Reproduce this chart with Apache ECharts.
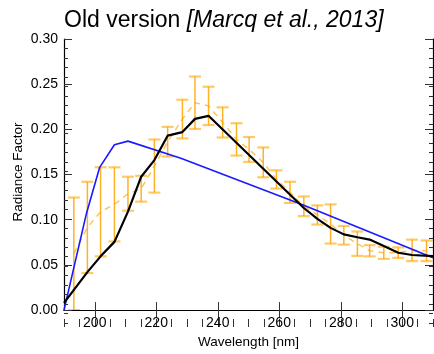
<!DOCTYPE html>
<html>
<head>
<meta charset="utf-8">
<script src="https://cdn.jsdelivr.net/npm/echarts@6/dist/echarts.min.js"></script>
<style>html,body{margin:0;padding:0;background:#fff}#c{width:434px;height:354px}</style>
</head>
<body>
<div id="c"></div>
<script>
// Observations: wavelength, mean and half error-bar
const obsWl   = [193.2,197.6,201.9,206.4,210.8,215.1,219.4,223.7,228.5,232.6,237.0,241.6,246.1,250.2,254.8,259.1,263.5,268.0,272.4,276.7,281.0,285.4,289.4,294.0,298.7,303.2,307.9];
const obsMean = [0.0623,0.0915,0.1088,0.1170,0.1288,0.1343,0.1594,0.1864,0.2114,0.2295,0.2260,0.2077,0.1889,0.1778,0.1635,0.1446,0.1303,0.1149,0.1053,0.0953,0.0828,0.0735,0.0657,0.0634,0.0636,0.0661,0.0656];
const obsErr  = [0.0623,0.0505,0.0493,0.0410,0.0188,0.0143,0.0294,0.0164,0.0214,0.0290,0.0212,0.0167,0.0179,0.0138,0.0165,0.0101,0.0117,0.0109,0.0106,0.0217,0.0103,0.0135,0.0062,0.0067,0.0058,0.0119,0.0114];
// Black model curve
const blackWl = [190,197.6,201.9,206.4,210.8,215.1,219.4,223.7,228.5,232.6,237.0,268.0,272.4,276.7,281.0,285.4,289.4,294.0,298.7,303.2,310];
const blackRF = [0.008,0.042,0.0595,0.0755,0.109,0.1476,0.166,0.193,0.197,0.2116,0.215,0.113,0.101,0.091,0.0838,0.0806,0.078,0.071,0.0635,0.061,0.0597];
// Blue model curve
const blueWl = [190,197.3,201.6,206.4,210.8,228,268,310];
const blueRF = [0.0,0.107,0.158,0.183,0.187,0.168,0.116,0.058];
// Axis ticks
const xMajor = [200,220,240,260,280,300];
const xMinor = [190,195,200,205,210,215,220,225,230,235,240,245,250,255,260,265,270,275,280,285,290,295,300,305,310];

const chart = echarts.init(document.getElementById('c'), null, {renderer:'canvas'});
const F = 'Liberation Sans, Arial, Helvetica, sans-serif';
const gridPos = {left:64, right:1, top:39, bottom:31, containLabel:false};
const lineCol = '#000';
const tickCol = '#333';

function xAx(grid, pos, major, withLabel){
  const a = {
    type:'value', gridIndex:grid, position:pos, min:190, max:310,
    splitLine:{show:false},
    axisLine:{show:grid===0, lineStyle:{color:lineCol, width:1.2}},
    axisTick:{show:true, inside:true, length:major?8:4, lineStyle:{color:tickCol, width:1}},
    axisLabel:{show:false}
  };
  if (major){
    a.axisTick.customValues = xMajor;
    a.axisLabel = {show:withLabel, customValues:xMajor, color:'#000', fontFamily:F, fontSize:14, margin:6};
  } else {
    a.interval = 5;
    a.axisTick.customValues = xMinor;
  }
  if (withLabel){
    a.name = 'Wavelength [nm]'; a.nameLocation='middle'; a.nameGap=20;
    a.nameTextStyle = {color:'#000', fontFamily:F, fontSize:13.5};
  }
  return a;
}
function yAx(grid, pos, major, withLabel){
  return {
    type:'value', gridIndex:grid, position:pos, min:0, max:0.3, interval:major?0.05:0.01,
    splitLine:{show:false},
    axisLine:{show:grid===0, lineStyle:{color:lineCol, width:1.2}},
    axisTick:{show:true, inside:true, length:major?8:4, lineStyle:{color:tickCol, width:1}},
    axisLabel:{show:withLabel, color:'#000', fontFamily:F, fontSize:14, margin:6,
      formatter:v=>v.toFixed(2)}
  };
}

const obsData = obsWl.map((w,i)=>[w, obsMean[i], obsErr[i]]);

chart.setOption({
  animation:false,
  backgroundColor:'#fff',
  title:{
    text:'{a|Old version }{b|[Marcq et al., 2013]}',
    left:59, top:4,
    textStyle:{fontWeight:'normal', rich:{
      a:{fontFamily:F, fontSize:23, color:'#000', fontWeight:'normal'},
      b:{fontFamily:F, fontSize:23, color:'#000', fontStyle:'italic', fontWeight:'normal'}
    }}
  },
  graphic:[{
    type:'text', x:18, y:172, rotation:Math.PI/2,
    style:{text:'Radiance Factor', fontFamily:F, fontSize:13.5, fill:'#000', align:'center', verticalAlign:'middle'}
  }],
  grid:[gridPos, Object.assign({}, gridPos)],
  xAxis:[xAx(0,'bottom',true,true), xAx(0,'top',true,false), xAx(1,'bottom',false,false), xAx(1,'top',false,false)],
  yAxis:[yAx(0,'left',true,true), yAx(0,'right',true,false), yAx(1,'left',false,false), yAx(1,'right',false,false)],
  series:[
    {
      type:'custom', xAxisIndex:0, yAxisIndex:0, clip:true, z:2,
      data:obsData,
      renderItem:function(params, api){
        const x=api.value(0), m=api.value(1), e=api.value(2);
        const t=api.coord([x,m+e]), b=api.coord([x,m-e]);
        const hw=6;
        return {type:'group', children:[
          {type:'line', shape:{x1:t[0],y1:t[1],x2:b[0],y2:b[1]}, style:{stroke:'rgba(255,165,0,0.85)', lineWidth:1.5}},
          {type:'line', shape:{x1:t[0]-hw,y1:t[1],x2:t[0]+hw,y2:t[1]}, style:{stroke:'rgba(255,165,0,0.6)', lineWidth:2.2}},
          {type:'line', shape:{x1:b[0]-hw,y1:b[1],x2:b[0]+hw,y2:b[1]}, style:{stroke:'rgba(255,165,0,0.6)', lineWidth:2.2}}
        ]};
      }
    },
    {
      type:'line', xAxisIndex:0, yAxisIndex:0, z:3, symbol:'none',
      data:obsWl.map((w,i)=>[w, obsMean[i]]),
      lineStyle:{color:'rgba(255,165,0,0.65)', width:1.5, type:[6,5]}
    },
    {
      type:'line', xAxisIndex:0, yAxisIndex:0, z:4, symbol:'none',
      data:blueWl.map((w,i)=>[w, blueRF[i]]),
      lineStyle:{color:'#1a1aff', width:1.6}
    },
    {
      type:'line', xAxisIndex:0, yAxisIndex:0, z:5, symbol:'none',
      data:blackWl.map((w,i)=>[w, blackRF[i]]),
      lineStyle:{color:'#000', width:2.2}
    }
  ]
});
</script>
</body>
</html>
